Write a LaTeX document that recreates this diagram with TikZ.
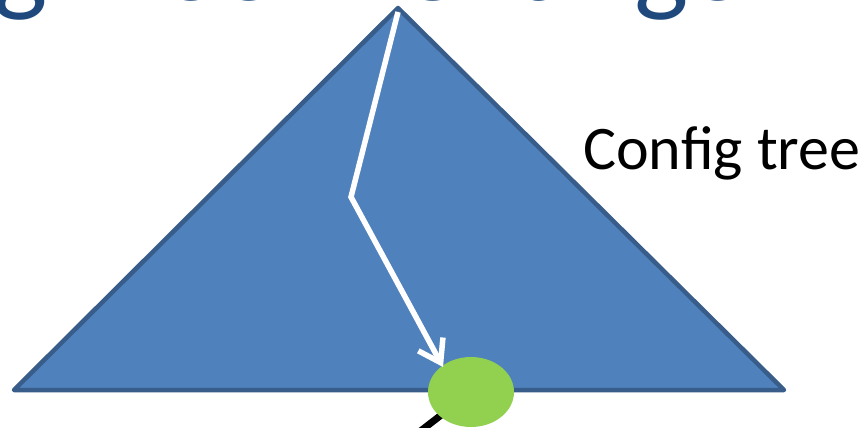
\documentclass[tikz,border=0pt]{standalone}
\usepackage{fontspec}
\setmainfont{Carlito}
\usetikzlibrary{arrows.meta,shapes.geometric}
\definecolor{triFill}{HTML}{4F81BD}
\definecolor{triLine}{HTML}{385D8A}
\definecolor{leafGreen}{HTML}{92D050}
\definecolor{titleBlue}{HTML}{1F497D}
\tikzset{
  tree/.style={fill=triFill,draw=triLine,line width=4.5pt,line join=round},
  walk/.style={draw=white,line width=5.5pt,line join=miter,-{Straight Barb[length=21pt,width=28pt,line width=5.5pt]}},
  leaf/.style={ellipse,fill=leafGreen,minimum width=86pt,minimum height=70pt,inner sep=0pt},
  link/.style={draw=black,line width=7pt},
  cfgtext/.style={inner sep=0pt,font=\fontsize{62}{62}\selectfont},
  heading/.style={inner sep=0pt,text=titleBlue,font=\fontsize{115}{115}\selectfont}
}
\begin{document}
\begin{tikzpicture}[x=1pt,y=-1pt]
\useasboundingbox (0,0) rectangle (868,428);
\node[heading,anchor=base west] (titleA) at (-7,0.5) {g Tree};
\node[heading,anchor=base west] (titleB) at (397,0.5) {Change n};
\coordinate (apex) at (398,8);
\coordinate (left) at (14,390);
\coordinate (right) at (784,390);
\path[tree] (apex) -- (right) -- (left) -- cycle;
\node[cfgtext,anchor=base west] (cfg) at (583,169) {Config tree};
\coordinate (start) at (398,12);
\coordinate (bend) at (351,197);
\coordinate (tip) at (443,367);
\coordinate (away) at (405,443);
\draw[link] (471,392) -- (away);
\node[leaf] (leaf) at (471,392) {};
\draw[walk] (start) -- (bend) -- (tip);
\end{tikzpicture}
\end{document}
